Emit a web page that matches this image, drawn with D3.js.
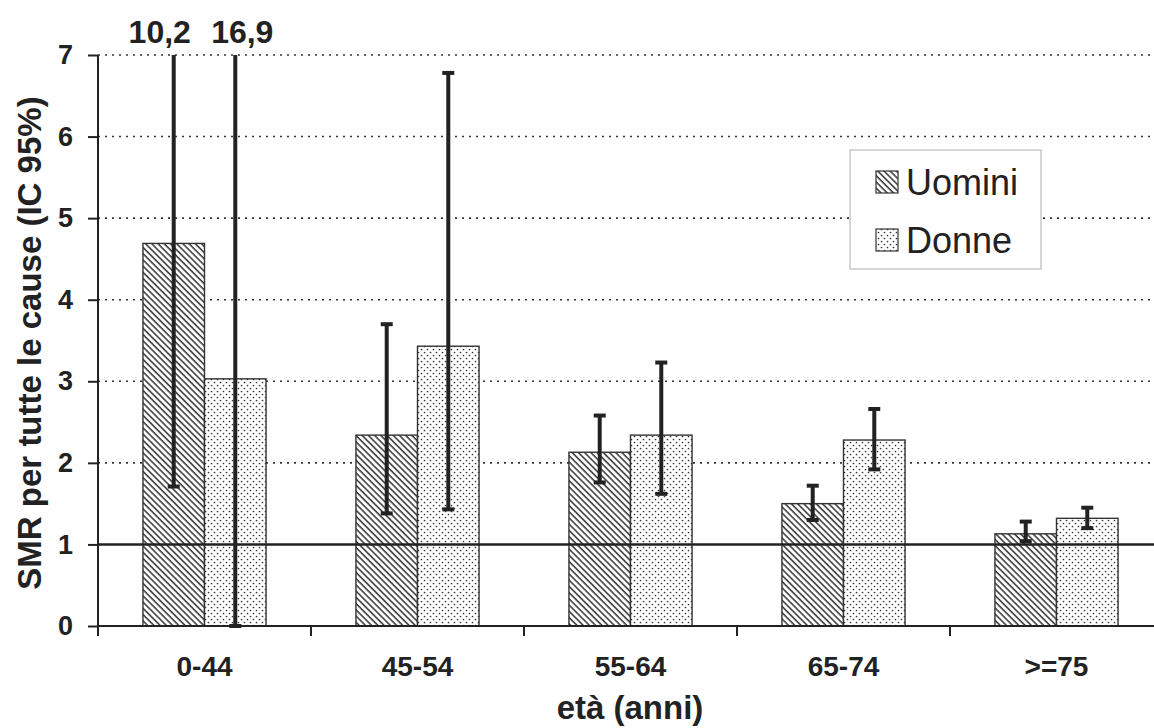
<!DOCTYPE html>
<html>
<head>
<meta charset="utf-8">
<script src="https://cdn.jsdelivr.net/npm/d3@7"></script>
<style>
  body { margin: 0; background: #fff; }
  svg { display: block; font-family: "Liberation Sans", Arial, sans-serif; }
</style>
</head>
<body>
<svg id="chart" width="1154" height="728"></svg>
<script>
// data
var ageGroups = ["0-44", "45-54", "55-64", "65-74", ">=75"];
var seriesNames = ["Uomini", "Donne"];
var smrUomini = [4.69, 2.34, 2.13, 1.50, 1.13];
var lowUomini = [1.71, 1.38, 1.76, 1.30, 1.04];
var highUomini = [10.2, 3.70, 2.58, 1.72, 1.28];
var smrDonne = [3.03, 3.43, 2.34, 2.28, 1.32];
var lowDonne = [0.0, 1.43, 1.62, 1.92, 1.20];
var highDonne = [16.9, 6.78, 3.23, 2.66, 1.45];
var yTicks = [0, 1, 2, 3, 4, 5, 6, 7];

var svg = d3.select("#chart");
var ink = "#222";
var fontFam = "'Liberation Sans', Arial, sans-serif";

var margin = { top: 55, left: 98, bottom: 102 };
var plotRight = 98 + 5 * 213;
var plotBottom = 728 - margin.bottom;

// patterns
var defs = svg.append("defs");
defs.append("pattern")
    .attr("id", "hatch")
    .attr("patternUnits", "userSpaceOnUse")
    .attr("width", 4.4).attr("height", 4.4)
    .attr("patternTransform", "rotate(-45)")
  .append("line")
    .attr("x1", 1).attr("y1", 0).attr("x2", 1).attr("y2", 4.4)
    .attr("stroke", "#333").attr("stroke-width", 1.5);

var dots = defs.append("pattern")
    .attr("id", "dots")
    .attr("patternUnits", "userSpaceOnUse")
    .attr("width", 6).attr("height", 6);
dots.append("circle").attr("cx", 1.5).attr("cy", 1.5).attr("r", 0.85).attr("fill", "#333");
dots.append("circle").attr("cx", 4.5).attr("cy", 4.5).attr("r", 0.85).attr("fill", "#333");

var x = d3.scaleBand()
    .domain(ageGroups)
    .range([margin.left, plotRight]);

var inner = d3.scaleBand()
    .domain(seriesNames)
    .range([0, x.bandwidth() * 0.578]);

var y = d3.scaleLinear()
    .domain([0, 7])
    .range([plotBottom, margin.top]);

// dotted grid
svg.append("g")
  .selectAll("line")
  .data(yTicks.filter(function(d) { return d > 1; }))
  .enter().append("line")
    .attr("x1", margin.left).attr("x2", plotRight)
    .attr("y1", function(d) { return y(d); })
    .attr("y2", function(d) { return y(d); })
    .attr("stroke", "#333")
    .attr("stroke-width", 1.6)
    .attr("stroke-dasharray", "2,5");

var series = [
  { name: "Uomini", smr: smrUomini, low: lowUomini, high: highUomini, fill: "url(#hatch)" },
  { name: "Donne", smr: smrDonne, low: lowDonne, high: highDonne, fill: "url(#dots)" }
];

var groupOffset = (x.bandwidth() - inner.range()[1]) / 2;

series.forEach(function(s) {
  var g = svg.append("g");
  g.selectAll("rect.bg")
    .data(ageGroups)
    .enter().append("rect")
      .attr("class", "bg")
      .attr("x", function(d) { return x(d) + groupOffset + inner(s.name); })
      .attr("y", function(d, i) { return y(s.smr[i]); })
      .attr("width", inner.bandwidth())
      .attr("height", function(d, i) { return y(0) - y(s.smr[i]); })
      .attr("fill", "#fff");
  g.selectAll("rect.fill")
    .data(ageGroups)
    .enter().append("rect")
      .attr("class", "fill")
      .attr("x", function(d) { return x(d) + groupOffset + inner(s.name); })
      .attr("y", function(d, i) { return y(s.smr[i]); })
      .attr("width", inner.bandwidth())
      .attr("height", function(d, i) { return y(0) - y(s.smr[i]); })
      .attr("fill", s.fill)
      .attr("stroke", "#333")
      .attr("stroke-width", 1.4);
});

// reference line at SMR = 1
svg.append("line")
    .attr("x1", margin.left).attr("x2", plotRight)
    .attr("y1", y(1)).attr("y2", y(1))
    .attr("stroke", ink).attr("stroke-width", 2.6);

// error bars (clipped at the top of the axis)
var labelShift = [-14, 7];
series.forEach(function(s, si) {
  ageGroups.forEach(function(d, i) {
    var cx = x(d) + groupOffset + inner(s.name) + inner.bandwidth() / 2;
    var top = Math.min(s.high[i], 7);
    svg.append("line")
        .attr("x1", cx).attr("x2", cx)
        .attr("y1", y(s.low[i])).attr("y2", y(top))
        .attr("stroke", ink).attr("stroke-width", 4);
    var caps = [s.low[i]];
    if (s.high[i] <= 7) caps.push(s.high[i]);
    caps.forEach(function(v) {
      svg.append("line")
          .attr("x1", cx - 6).attr("x2", cx + 6)
          .attr("y1", y(v)).attr("y2", y(v))
          .attr("stroke", ink).attr("stroke-width", 4);
    });
    if (s.high[i] > 7) {
      svg.append("text")
          .attr("x", cx + labelShift[si]).attr("y", y(7) - 12)
          .attr("text-anchor", "middle")
          .style("font-size", "32px").style("font-weight", "bold").style("fill", ink)
          .text(d3.format(".1f")(s.high[i]).replace(".", ","));
    }
  });
});

// axes
var yAxis = d3.axisLeft(y).tickValues(yTicks).tickFormat(d3.format("d")).tickSize(10).tickPadding(15);
var gy = svg.append("g")
    .attr("transform", "translate(" + margin.left + ",0)")
    .call(yAxis);
gy.select(".domain").attr("stroke", ink).attr("stroke-width", 2).attr("d", "M0," + y(7) + "V" + y(0));
gy.selectAll(".tick line").attr("stroke", ink).attr("stroke-width", 2);
gy.selectAll(".tick text")
    .style("font-size", "27px").style("font-weight", "bold").style("fill", ink)
    .style("font-family", fontFam);

var xAxis = d3.axisBottom(x).tickSize(0).tickPadding(30);
var gx = svg.append("g")
    .attr("transform", "translate(0," + y(0) + ")")
    .call(xAxis);
gx.select(".domain").attr("stroke", ink).attr("stroke-width", 2).attr("d", "M" + margin.left + ",0H" + plotRight);
gx.selectAll(".tick text")
    .style("font-size", "28px").style("font-weight", "bold").style("fill", ink)
    .style("font-family", fontFam);

// category separators on x axis
svg.append("g").selectAll("line")
  .data(ageGroups.slice(1))
  .enter().append("line")
    .attr("x1", function(d) { return x(d); })
    .attr("x2", function(d) { return x(d); })
    .attr("y1", y(0)).attr("y2", y(0) + 10)
    .attr("stroke", ink).attr("stroke-width", 2);
svg.append("line")
    .attr("x1", margin.left).attr("x2", margin.left)
    .attr("y1", y(0)).attr("y2", y(0) + 10)
    .attr("stroke", ink).attr("stroke-width", 2);

// axis titles
svg.append("text")
    .attr("transform", "translate(41," + 343 + ") rotate(-90)")
    .attr("text-anchor", "middle")
    .style("font-size", "33px").style("font-weight", "bold").style("fill", ink)
    .text("SMR per tutte le cause (IC 95%)");

svg.append("text")
    .attr("x", 630)
    .attr("y", 719)
    .attr("text-anchor", "middle")
    .style("font-size", "33px").style("font-weight", "bold").style("fill", ink)
    .text("età (anni)");

// legend
var legend = svg.append("g").attr("transform", "translate(850,150)");
legend.append("rect")
    .attr("width", 191).attr("height", 119)
    .attr("fill", "#fff").attr("stroke", "#bbb").attr("stroke-width", 1.2);
series.forEach(function(s, i) {
  var row = legend.append("g").attr("transform", "translate(0," + (32 + i * 58) + ")");
  row.append("rect")
      .attr("x", 26).attr("y", -11).attr("width", 22).attr("height", 22)
      .attr("fill", "#fff");
  row.append("rect")
      .attr("x", 26).attr("y", -11).attr("width", 22).attr("height", 22)
      .attr("fill", s.fill).attr("stroke", "#333").attr("stroke-width", 1.2);
  row.append("text")
      .attr("x", 56).attr("y", 13)
      .style("font-size", "36px").style("fill", ink)
      .text(s.name);
});
</script>
</body>
</html>
